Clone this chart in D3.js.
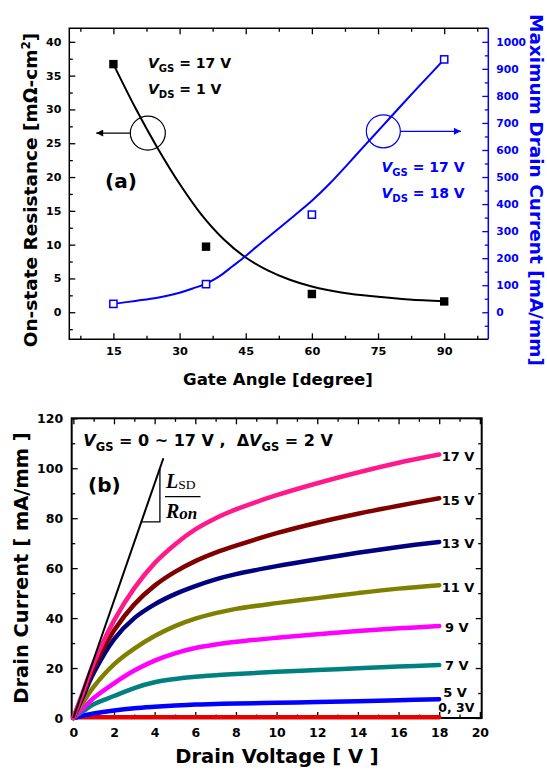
<!DOCTYPE html>
<html>
<head>
<meta charset="utf-8">
<script src="https://cdn.jsdelivr.net/npm/d3@7"></script>
<style>
  html, body { margin: 0; padding: 0; background: #fff; }
  svg { display: block; }
  text { font-family: "DejaVu Sans", "Liberation Sans", Arial, sans-serif; font-weight: bold; white-space: pre; }
</style>
</head>
<body>
<div id="chart"></div>
<script>
// ---- panel (a): on-resistance / max drain current vs gate angle ----
const gateAngle = [15, 36, 60, 90];
const onResistance = [36.7, 9.7, 2.7, 1.6];          // mOhm-cm2
const maxDrainCurrent = [31, 104, 361, 935];         // mA/mm

// fitted curves as drawn in the figure
const resFitAngle = [15, 20, 25, 30, 35, 40, 45, 50, 55, 60, 67, 75, 82, 90];
const resFitValue = [36.7, 30.2, 24.3, 19.0, 14.4, 10.8, 8.1, 6.2, 4.8, 3.8, 2.9, 2.3, 1.9, 1.63];
const curFitAngle = [15, 20, 25, 30, 33, 36, 39, 42, 45, 48, 52, 56, 60, 64, 68, 72, 76, 80, 85, 90];
const curFitValue = [31, 42, 54, 72, 88, 106, 133, 170, 208, 250, 303, 357, 412, 475, 545, 617, 688, 760, 848, 935];

const angleTicks = [15, 30, 45, 60, 75, 90];
const angleMinor = [7.5, 22.5, 37.5, 52.5, 67.5, 82.5, 97.5];
const resTicks = [0, 5, 10, 15, 20, 25, 30, 35, 40];
const resMinor = [-2.5, 2.5, 7.5, 12.5, 17.5, 22.5, 27.5, 32.5, 37.5];
const curTicks = [0, 100, 200, 300, 400, 500, 600, 700, 800, 900, 1000];
const curMinor = [-50, 50, 150, 250, 350, 450, 550, 650, 750, 850, 950];

// ---- panel (b): output characteristics ----
const drainVoltage = [0, 0.5, 1, 2, 3, 4, 5, 6, 7, 8, 10, 12, 14, 16, 18];
const id17 = [0, 11, 22, 39, 52, 62, 69.5, 75.5, 80, 83.5, 89.2, 94, 98.3, 102.2, 105.5];
const id15 = [0, 10, 20, 35, 45.5, 53, 58.5, 62.8, 66.2, 69, 74, 78.2, 81.8, 85, 88];
const id13 = [0, 9, 18, 31.5, 40, 45.5, 49.6, 52.8, 55.5, 57.6, 60.8, 63.6, 66.2, 68.5, 70.5];
const id11 = [0, 6.5, 12.5, 21.5, 27.8, 32.8, 36.8, 39.8, 42, 43.7, 46, 48, 50, 51.8, 53.2];
const id9 = [0, 4, 8, 13.9, 19, 23, 25.9, 28, 29.4, 30.5, 32.1, 33.5, 34.8, 35.9, 36.8];
const id7 = [0, 2.8, 5.5, 8.8, 12, 14.3, 15.6, 16.5, 17.1, 17.6, 18.5, 19.2, 19.9, 20.6, 21.2];
const id5 = [0, 1, 1.8, 3, 3.9, 4.5, 5, 5.4, 5.6, 5.8, 6.1, 6.4, 6.7, 7.1, 7.5];
const id0 = [0.3, 0.3, 0.3, 0.3, 0.3, 0.3, 0.3, 0.3, 0.3, 0.3, 0.3, 0.3, 0.3, 0.3, 0.3];
const gateLabels = ["0, 3V", "5 V", "7 V", "9 V", "11 V", "13 V", "15 V", "17 V"];
const slopeV = [0, 4.43];
const slopeI = [0, 104];
const vTicks = [0, 2, 4, 6, 8, 10, 12, 14, 16, 18, 20];
const vMinor = [1, 3, 5, 7, 9, 11, 13, 15, 17, 19];
const iTicks = [0, 20, 40, 60, 80, 100, 120];
const iMinor = [10, 30, 50, 70, 90, 110];

const BLUE = "#0000ff";

const svg = d3.select("#chart").append("svg")
    .attr("width", 547)
    .attr("height", 773)
    .style("background", "#fff");

// draw ticks with a d3 axis, inward, no domain line
function drawAxis(g, axis, vals, size, pad, fmt, color, fontSize) {
    axis.tickValues(vals).tickSizeInner(-size).tickSizeOuter(0).tickPadding(pad);
    if (fmt) axis.tickFormat(fmt); else axis.tickFormat("");
    g.call(axis);
    g.select(".domain").remove();
    g.selectAll("line").attr("stroke", color).attr("stroke-width", 1.3);
    g.selectAll("text")
        .attr("fill", color)
        .style("font-size", fontSize + "px")
        .style("font-family", "'DejaVu Sans', 'Liberation Sans', Arial, sans-serif")
        .style("font-weight", "bold");
    g.attr("font-family", null).attr("font-size", null);
}

// V with subscript, e.g. V_GS = 17 V
function vText(g, x, y, sub, rest, size, color) {
    const t = g.append("text").attr("x", x).attr("y", y)
        .attr("fill", color).style("font-size", size + "px");
    t.append("tspan").text("V").style("font-style", "italic");
    t.append("tspan").text(sub).style("font-size", (size * 0.72) + "px").attr("dy", size * 0.3);
    t.append("tspan").text(rest).attr("dy", -size * 0.3);
    return t;
}

/* ---------------- panel (a) ---------------- */
const xA = d3.scaleLinear().domain([5, 100]).range([69.3, 488.3]);
const yL = d3.scaleLinear().domain([-4, 42]).range([339.3, 28.3]);
const yR = d3.scaleLinear().domain([-100, 1050]).range([339.3, 28.3]);
const pa = svg.append("g");

const numFmt = d3.format("d");
drawAxis(pa.append("g").attr("transform", "translate(0,339.3)"), d3.axisBottom(xA), angleTicks, 6, 8, numFmt, "#000", 11.3);
drawAxis(pa.append("g").attr("transform", "translate(0,339.3)"), d3.axisBottom(xA), angleMinor, 3.5, 8, null, "#000", 11.3);
drawAxis(pa.append("g").attr("transform", "translate(0,28.3)"), d3.axisTop(xA), angleTicks, 6, 8, null, "#000", 11);
drawAxis(pa.append("g").attr("transform", "translate(0,28.3)"), d3.axisTop(xA), angleMinor, 3.5, 8, null, "#000", 11);
drawAxis(pa.append("g").attr("transform", "translate(69.3,0)"), d3.axisLeft(yL), resTicks, 6, 8, numFmt, "#000", 11);
drawAxis(pa.append("g").attr("transform", "translate(69.3,0)"), d3.axisLeft(yL), resMinor, 3.5, 8, null, "#000", 11);
drawAxis(pa.append("g").attr("transform", "translate(488.3,0)"), d3.axisRight(yR), curTicks, 6, 8, numFmt, BLUE, 10.7);
drawAxis(pa.append("g").attr("transform", "translate(488.3,0)"), d3.axisRight(yR), curMinor, 3.5, 8, null, BLUE, 10.7);

// frame
pa.append("path")
    .attr("d", `M488.3,28.3 H69.3 V339.3 H488.3`)
    .attr("fill", "none").attr("stroke", "#000").attr("stroke-width", 1.5);
pa.append("line").attr("x1", 488.3).attr("x2", 488.3).attr("y1", 28.3).attr("y2", 339.3)
    .attr("stroke", BLUE).attr("stroke-width", 1.5);

// fitted curves
const smooth = d3.curveCatmullRom.alpha(0.5);
const resLine = d3.line().x((d, i) => xA(resFitAngle[i])).y(d => yL(d)).curve(smooth);
const curLine = d3.line().x((d, i) => xA(curFitAngle[i])).y(d => yR(d)).curve(smooth);
pa.append("path").attr("d", resLine(resFitValue)).attr("fill", "none").attr("stroke", "#000").attr("stroke-width", 2);
pa.append("path").attr("d", curLine(curFitValue)).attr("fill", "none").attr("stroke", BLUE).attr("stroke-width", 2);

// measured points
pa.selectAll(".rs").data(onResistance).enter().append("rect")
    .attr("x", (d, i) => xA(gateAngle[i]) - 4.2)
    .attr("y", d => yL(d) - 4.2)
    .attr("width", 8.4).attr("height", 8.4)
    .attr("fill", "#000");
pa.selectAll(".cs").data(maxDrainCurrent).enter().append("rect")
    .attr("x", (d, i) => xA(gateAngle[i]) - 3.6)
    .attr("y", d => yR(d) - 3.6)
    .attr("width", 7.2).attr("height", 7.2)
    .attr("fill", "#fff").attr("stroke", BLUE).attr("stroke-width", 1.5);

// axis-indicator circles with arrows
const marker = (id, color) => svg.append("defs").append("marker")
    .attr("id", id).attr("viewBox", "0 0 10 10").attr("refX", 10).attr("refY", 5)
    .attr("markerWidth", 9).attr("markerHeight", 7).attr("markerUnits", "userSpaceOnUse")
    .attr("orient", "auto")
    .append("path").attr("d", "M0,0 L10,5 L0,10 z").attr("fill", color);
marker("arrK", "#000");
marker("arrB", BLUE);

pa.append("ellipse").attr("cx", xA(22.8)).attr("cy", yL(26.5)).attr("rx", 17.5).attr("ry", 17)
    .attr("fill", "none").attr("stroke", "#000").attr("stroke-width", 1.2);
pa.append("line").attr("x1", xA(22.8) - 17.5).attr("y1", yL(26.5)).attr("x2", xA(11.1)).attr("y2", yL(26.5))
    .attr("stroke", "#000").attr("stroke-width", 1.2).attr("marker-end", "url(#arrK)");
pa.append("ellipse").attr("cx", xA(76.2)).attr("cy", yR(669)).attr("rx", 17).attr("ry", 16.5)
    .attr("fill", "none").attr("stroke", BLUE).attr("stroke-width", 1.2);
pa.append("line").attr("x1", xA(76.2) + 17).attr("y1", yR(669)).attr("x2", xA(93.8)).attr("y2", yR(669))
    .attr("stroke", BLUE).attr("stroke-width", 1.2).attr("marker-end", "url(#arrB)");

// annotations
vText(pa, 148, 68, "GS", " = 17 V", 14, "#000");
vText(pa, 148, 94, "DS", " = 1 V", 14, "#000");
vText(pa, 381.5, 172, "GS", " = 17 V", 14, BLUE);
vText(pa, 381.5, 198, "DS", " = 18 V", 14, BLUE);
pa.append("text").attr("x", 105).attr("y", 188).text("(a)").style("font-size", "20px");

// titles
pa.append("text").attr("x", 278).attr("y", 385).attr("text-anchor", "middle")
    .style("font-size", "16.6px").text("Gate Angle [degree]");
const tl = pa.append("text").attr("transform", "translate(37,190) rotate(-90)")
    .attr("text-anchor", "middle").style("font-size", "18.5px");
tl.append("tspan").text("On-state Resistance [m\u03A9-cm");
tl.append("tspan").text("2").attr("dy", -7).style("font-size", "12px");
tl.append("tspan").text("]").attr("dy", 7);
pa.append("text").attr("transform", "translate(530,190) rotate(90)")
    .attr("text-anchor", "middle").attr("fill", BLUE).style("font-size", "18.5px")
    .text("Maximum Drain Current [mA/mm]");

/* ---------------- panel (b) ---------------- */
const xB = d3.scaleLinear().domain([-0.08, 20.09]).range([71.7, 481.7]);
const yB = d3.scaleLinear().domain([0, 120]).range([718, 418.3]);
const pb = svg.append("g");

drawAxis(pb.append("g").attr("transform", "translate(0,718)"), d3.axisBottom(xB), vTicks, 6, 10, numFmt, "#000", 12.5);
drawAxis(pb.append("g").attr("transform", "translate(0,718)"), d3.axisBottom(xB), vMinor, 3.5, 10, null, "#000", 12.5);
drawAxis(pb.append("g").attr("transform", "translate(0,418.3)"), d3.axisTop(xB), vTicks, 6, 10, null, "#000", 12.5);
drawAxis(pb.append("g").attr("transform", "translate(0,418.3)"), d3.axisTop(xB), vMinor, 3.5, 10, null, "#000", 12.5);
drawAxis(pb.append("g").attr("transform", "translate(71.7,0)"), d3.axisLeft(yB), iTicks, 6, 8.5, numFmt, "#000", 12.5);
drawAxis(pb.append("g").attr("transform", "translate(71.7,0)"), d3.axisLeft(yB), iMinor, 3.5, 8.5, null, "#000", 12.5);
drawAxis(pb.append("g").attr("transform", "translate(481.7,0)"), d3.axisRight(yB), iTicks, 6, 8, null, "#000", 12.5);
drawAxis(pb.append("g").attr("transform", "translate(481.7,0)"), d3.axisRight(yB), iMinor, 3.5, 8, null, "#000", 12.5);

pb.append("rect").attr("x", 71.7).attr("y", 418.3).attr("width", 410).attr("height", 299.7)
    .attr("fill", "none").attr("stroke", "#000").attr("stroke-width", 2);

const curves = [id0, id5, id7, id9, id11, id13, id15, id17];
const curveColors = ["#e60000", "#0000ff", "#008080", "#ff00ff", "#808000", "#000080", "#800000", "#ff1a8c"];
const ivLine = d3.line().x((d, i) => xB(drainVoltage[i])).y(d => yB(d)).curve(smooth);
pb.selectAll(".iv").data(curves).enter().append("path")
    .attr("d", d => ivLine(d))
    .attr("fill", "none")
    .attr("stroke", (d, i) => curveColors[i])
    .attr("stroke-width", 4.5)
    .attr("stroke-linecap", "round");

// L_SD/R_on slope line and triangle
pb.append("line")
    .attr("x1", xB(slopeV[0])).attr("y1", yB(slopeI[0]))
    .attr("x2", xB(slopeV[1])).attr("y2", yB(slopeI[1]))
    .attr("stroke", "#000").attr("stroke-width", 2);
pb.append("path")
    .attr("d", `M${xB(3.36)},${yB(78.5)} H${xB(4.26)} V${yB(99.8)}`)
    .attr("fill", "none").attr("stroke", "#000").attr("stroke-width", 1.3);

const serif = "'Liberation Serif', 'DejaVu Serif', 'Times New Roman', serif";
const fr = pb.append("text").attr("x", 166).attr("y", 488).style("font-family", serif).style("font-size", "20px");
fr.append("tspan").text("L").style("font-style", "italic");
fr.append("tspan").text("SD").style("font-size", "13.5px").style("font-weight", "normal").attr("dy", 1);
pb.append("line").attr("x1", 165).attr("x2", 200.5).attr("y1", 496.7).attr("y2", 496.7)
    .attr("stroke", "#000").attr("stroke-width", 1.3);
const fr2 = pb.append("text").attr("x", 166).attr("y", 518).style("font-family", serif).style("font-size", "20px");
fr2.append("tspan").text("R").style("font-style", "italic");
fr2.append("tspan").text("on").style("font-style", "italic").style("font-size", "17px").attr("dy", 1);

// curve labels at the right end
const labelY = [711.7, 696.7, 670, 631.7, 591.7, 548.3, 505, 460.7];
const labelX = [438.3, 443.3, 445, 445, 441.7, 441.7, 441.7, 441.7];
pb.selectAll(".gl").data(gateLabels).enter().append("text")
    .attr("x", (d, i) => labelX[i]).attr("y", (d, i) => labelY[i])
    .style("font-size", (d, i) => i === 0 ? "12.5px" : "13px")
    .text(d => d);

// header and panel letter
const hd = pb.append("text").attr("x", 83.3).attr("y", 446).style("font-size", "16px");
hd.append("tspan").text("V").style("font-style", "italic");
hd.append("tspan").text("GS").style("font-size", "11.5px").attr("dy", 5);
hd.append("tspan").text(" = 0 ~ 17 V ,  \u0394").attr("dy", -5);
hd.append("tspan").text("V").style("font-style", "italic");
hd.append("tspan").text("GS").style("font-size", "11.5px").attr("dy", 5);
hd.append("tspan").text(" = 2 V").attr("dy", -5);
pb.append("text").attr("x", 88).attr("y", 492).text("(b)").style("font-size", "20px");

// titles
pb.append("text").attr("x", 277).attr("y", 763).attr("text-anchor", "middle")
    .style("font-size", "19.5px").text("Drain Voltage [ V ]");
pb.append("text").attr("transform", "translate(28,568) rotate(-90)")
    .attr("text-anchor", "middle").style("font-size", "19.5px").text("Drain Current [ mA/mm ]");
</script>
</body>
</html>
